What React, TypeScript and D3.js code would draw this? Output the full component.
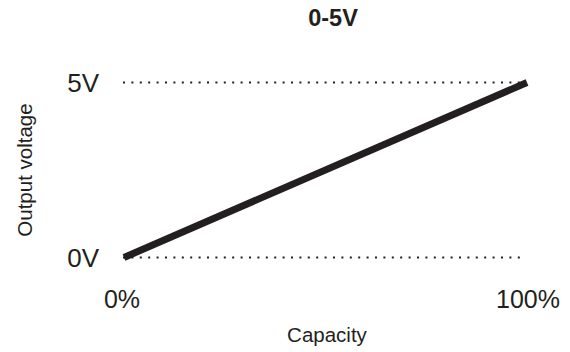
import React from "react";
import * as d3 from "d3";

const capacity = [0, 100];
const voltage = [0, 5];
const yTicks = [0, 5];
const yTickLabels = ["0V", "5V"];
const xTicks = [0, 100];
const xTickLabels = ["0%", "100%"];
const title = "0-5V";
const xTitle = "Capacity";
const yTitle = "Output voltage";

export default function App() {
  const W = 570, H = 352;
  const x = d3.scaleLinear().domain([0, 100]).range([124, 527]);
  const y = d3.scaleLinear().domain([0, 5]).range([257.5, 82.5]);
  const pts = capacity.map((c, i) => [x(c), y(voltage[i])] as [number, number]);
  const line = d3.line()(pts) || "";
  const font = "'Liberation Sans', Arial, sans-serif";
  const ink = "#231f20";
  return (
    <svg width={W} height={H} style={{ position: "absolute", left: 0, top: 0 }} fontFamily={font}>
      <rect width={W} height={H} fill="#fff" />
      <text x={333} y={26} textAnchor="middle" fontSize={23.5} fontWeight="bold" fill={ink}>{title}</text>
      {yTicks.map((t) => (
        <line key={"g" + t} x1={x(0) - 1} x2={x(100) - 2} y1={y(t)} y2={y(t)} stroke={ink} strokeWidth={2} strokeDasharray="2 6.4" />
      ))}
      <path d={line} stroke={ink} strokeWidth={7} fill="none" />
      {yTicks.map((t, i) => (
        <text key={"y" + t} x={99} y={y(t)} dy="0.36em" textAnchor="end" fontSize={26} fill={ink}>{yTickLabels[i]}</text>
      ))}
      {xTicks.map((t, i) => (
        <text key={"x" + t} x={x(t) + (i === 0 ? -2 : 1)} y={308} textAnchor="middle" fontSize={25} fill={ink}>{xTickLabels[i]}</text>
      ))}
      <text x={327} y={342} textAnchor="middle" fontSize={20.5} fill={ink}>{xTitle}</text>
      <text transform={`translate(32,170) rotate(-90)`} textAnchor="middle" fontSize={20.5} fill={ink}>{yTitle}</text>
    </svg>
  );
}
